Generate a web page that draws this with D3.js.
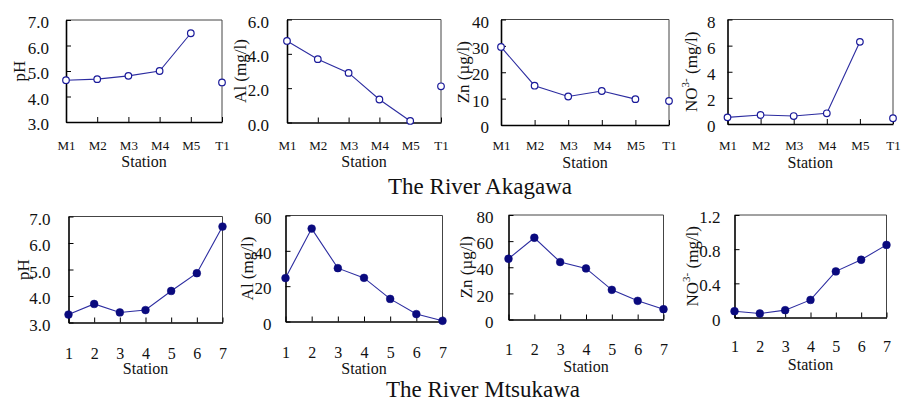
<!DOCTYPE html>
<html>
<head>
<meta charset="utf-8">
<script src="https://cdn.jsdelivr.net/npm/d3@7"></script>
<style>
  body { margin: 0; background: #fff; }
  svg { display: block; font-family: "Liberation Serif", "Times New Roman", serif; }
</style>
</head>
<body>
<svg id="chart" width="901" height="403"></svg>
<script>
// Akagawa: M1..M5 along the main stream, T1 is a tributary (not joined by the line)
const akagawaStations = ["M1", "M2", "M3", "M4", "M5", "T1"];
const akagawaPH = [4.64, 4.68, 4.81, 5.0, 6.48, 4.55];
const akagawaAl = [4.75, 3.69, 2.89, 1.34, 0.09, 2.11];
const akagawaZn = [29.6, 14.9, 10.8, 12.9, 9.8, 9.1];
const akagawaNO3 = [0.51, 0.69, 0.61, 0.82, 6.29, 0.44];

const mtsukawaStations = ["1", "2", "3", "4", "5", "6", "7"];
const mtsukawaPH = [3.3, 3.7, 3.38, 3.47, 4.19, 4.86, 6.62];
const mtsukawaAl = [24.6, 52.6, 30.2, 24.7, 12.8, 4.2, 0.4];
const mtsukawaZn = [46.5, 62.6, 44.0, 39.1, 22.7, 14.3, 7.9];
const mtsukawaNO3 = [0.074, 0.047, 0.086, 0.206, 0.54, 0.676, 0.85];

const phTicks = [3, 4, 5, 6, 7];
const alTicksA = [0, 2, 4, 6];
const znTicksA = [0, 10, 20, 30, 40];
const no3TicksA = [0, 2, 4, 6, 8];
const alTicksM = [0, 20, 40, 60];
const znTicksM = [0, 20, 40, 60, 80];
const no3TicksM = [0, 0.4, 0.8, 1.2];

const f1 = d3.format(".1f");
const fInt = d3.format("d");
const fNo3 = d => (d === 0 ? "0" : d3.format(".1f")(d));

const lineColor = "#2c2ca0";
const markColor = "#0a0a7e";

const svg = d3.select("#chart");

// layout of each panel: frame box, label positions
const panels = [
  { st: akagawaStations, v: akagawaPH, ticks: phTicks, fmt: f1, label: "pH", open: true,
    x0: 66, x1: 222, y0: 20, y1: 122, gap: 17, lx: 19, tickY: 150, stY: 166.5, xfs: 13 },
  { st: akagawaStations, v: akagawaAl, ticks: alTicksA, fmt: f1, label: "Al (mg/l)", open: true,
    x0: 287, x1: 441, y0: 19.5, y1: 122.5, gap: 18, lx: 240, tickY: 150, stY: 166.5, xfs: 13 },
  { st: akagawaStations, v: akagawaZn, ticks: znTicksA, fmt: fInt, label: "Zn (µg/l)", open: true,
    x0: 501, x1: 669, y0: 19.5, y1: 125, gap: 12, lx: 463, tickY: 150, stY: 168, xfs: 13 },
  { st: akagawaStations, v: akagawaNO3, ticks: no3TicksA, fmt: fInt, label: "NO3", open: true,
    x0: 727.5, x1: 893, y0: 19.5, y1: 124, gap: 12, lx: 691, tickY: 150, stY: 168, xfs: 13 },
  { st: mtsukawaStations, v: mtsukawaPH, ticks: phTicks, fmt: f1, label: "pH", open: false,
    x0: 68.5, x1: 222.5, y0: 216.5, y1: 322.5, gap: 18, lx: 23, tickY: 358.5, stY: 374, xfs: 16 },
  { st: mtsukawaStations, v: mtsukawaAl, ticks: alTicksM, fmt: fInt, label: "Al (mg/l)", open: false,
    x0: 285.5, x1: 442.5, y0: 215.5, y1: 321.5, gap: 14, lx: 247, tickY: 357.5, stY: 374, xfs: 16 },
  { st: mtsukawaStations, v: mtsukawaZn, ticks: znTicksM, fmt: fInt, label: "Zn (µg/l)", open: false,
    x0: 508.5, x1: 663.5, y0: 215, y1: 319.5, gap: 15, lx: 466, tickY: 354.5, stY: 371.5, xfs: 16 },
  { st: mtsukawaStations, v: mtsukawaNO3, ticks: no3TicksM, fmt: fNo3, label: "NO3", open: false,
    x0: 734.5, x1: 886.5, y0: 215, y1: 317.5, gap: 14, lx: 692, tickY: 352, stY: 370, xfs: 16 }
];

panels.forEach(p => {
  const x = d3.scalePoint().domain(p.st).range([p.x0, p.x1]).padding(0);
  const y = d3.scaleLinear()
    .domain([p.ticks[0], p.ticks[p.ticks.length - 1]])
    .range([p.y1, p.y0]);
  const data = p.st.map((s, i) => ({ s, v: p.v[i], main: s !== "T1" }));

  const g = svg.append("g");

  // frame: top/right lighter
  g.append("line").attr("x1", p.x0).attr("x2", p.x1).attr("y1", p.y0).attr("y2", p.y0)
    .attr("stroke", "#444").attr("stroke-width", 1);
  g.append("line").attr("x1", p.x1).attr("x2", p.x1).attr("y1", p.y0).attr("y2", p.y1)
    .attr("stroke", "#444").attr("stroke-width", 1);

  const yAxis = g.append("g")
    .attr("transform", `translate(${p.x0},0)`)
    .call(d3.axisLeft(y).tickValues(p.ticks).tickFormat(p.fmt)
      .tickSizeInner(-5).tickSizeOuter(0).tickPadding(p.gap));
  yAxis.select(".domain").attr("stroke", "#000").attr("stroke-width", 1.6);
  yAxis.selectAll(".tick line").attr("stroke", "#000");
  yAxis.selectAll("text")
    .attr("font-size", 17).attr("fill", "#111").attr("dy", "0.45em")
    .attr("font-family", "Liberation Serif, serif");

  const xAxis = g.append("g")
    .attr("transform", `translate(0,${p.y1})`)
    .call(d3.axisBottom(x).tickSizeInner(-5).tickSizeOuter(0));
  xAxis.select(".domain").attr("stroke", "#000").attr("stroke-width", 1.6);
  xAxis.selectAll(".tick line").attr("stroke", "#000");
  xAxis.selectAll("text")
    .attr("y", p.tickY - p.y1).attr("dy", null)
    .attr("font-size", p.xfs).attr("fill", "#111")
    .attr("font-family", "Liberation Serif, serif");

  g.append("text")
    .attr("x", (p.x0 + p.x1) / 2).attr("y", p.stY)
    .attr("text-anchor", "middle").attr("font-size", 16).attr("fill", "#111")
    .text("Station");

  // y label (rotated)
  const cy = (p.y0 + p.y1) / 2;
  const yl = g.append("text")
    .attr("transform", `translate(${p.lx},${cy}) rotate(-90)`)
    .attr("text-anchor", "middle").attr("font-size", 17).attr("fill", "#111")
    .attr("dy", "0.35em");
  if (p.label === "NO3") {
    yl.append("tspan").text("NO");
    yl.append("tspan").attr("font-size", 11).attr("dy", "-0.75em").text("3-");
    yl.append("tspan").attr("dy", "0.5em").text(" (mg/l)");
  } else {
    yl.text(p.label);
  }

  const line = d3.line()
    .defined(d => d.main)
    .x(d => x(d.s))
    .y(d => y(d.v));

  g.append("path")
    .datum(data)
    .attr("d", line)
    .attr("fill", "none")
    .attr("stroke", lineColor)
    .attr("stroke-width", 1.1);

  g.selectAll("circle")
    .data(data)
    .join("circle")
    .attr("cx", d => x(d.s))
    .attr("cy", d => y(d.v))
    .attr("r", p.open ? 3.3 : 3.9)
    .attr("fill", p.open ? "#fff" : markColor)
    .attr("stroke", p.open ? "#1a1a9a" : markColor)
    .attr("stroke-width", p.open ? 1.2 : 0.5);
});

svg.append("text")
  .attr("x", 480).attr("y", 194)
  .attr("text-anchor", "middle").attr("font-size", 23).attr("fill", "#111")
  .text("The River Akagawa");

svg.append("text")
  .attr("x", 483).attr("y", 397)
  .attr("text-anchor", "middle").attr("font-size", 23).attr("fill", "#111")
  .text("The River Mtsukawa");
</script>
</body>
</html>
